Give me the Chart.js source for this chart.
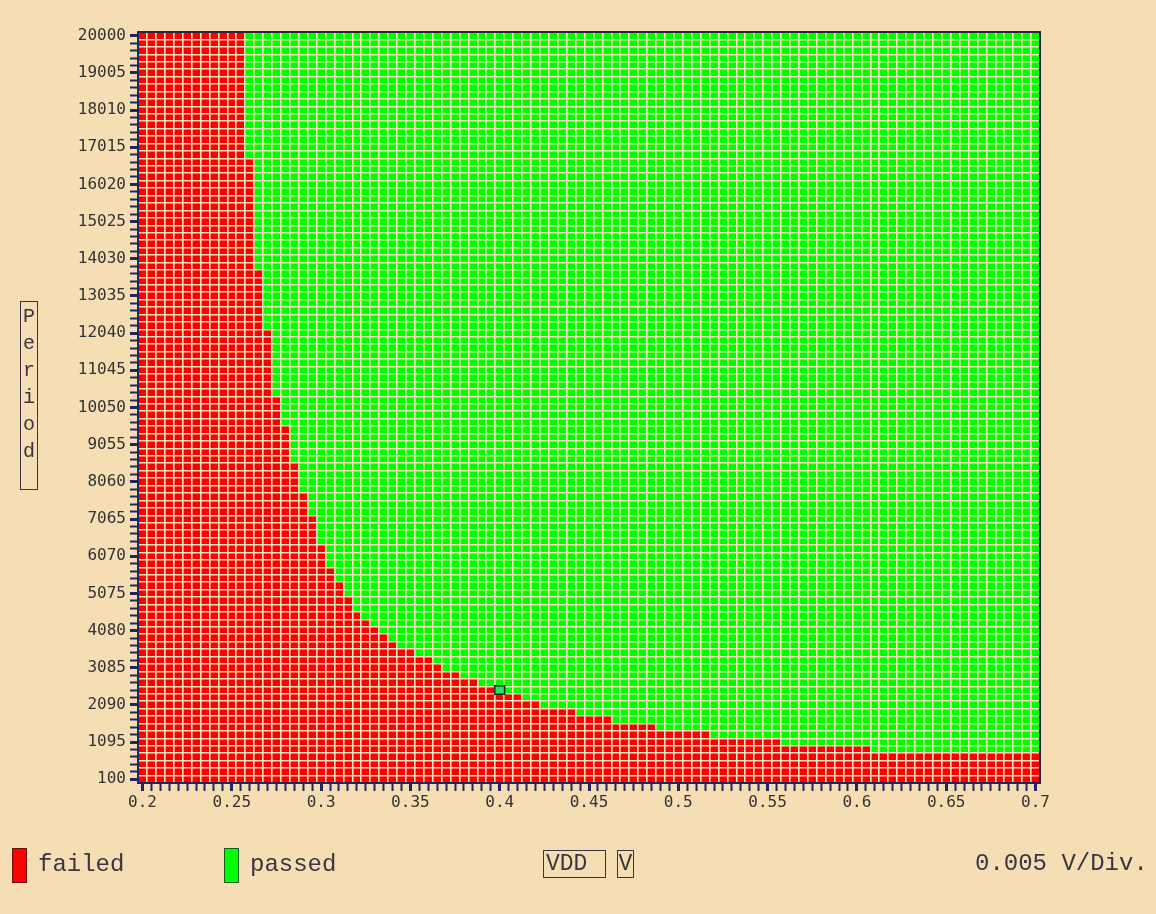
<!DOCTYPE html>
<html>
<head>
<meta charset="utf-8">
<title>Shmoo plot: Period vs VDD</title>
<script src="https://cdn.jsdelivr.net/npm/chart.js@4"></script>
<style>
  html, body { margin: 0; padding: 0; background: #F5DEB4; }
  #wrap { position: relative; width: 1156px; height: 914px; overflow: hidden; }
  #shmoo { position: absolute; left: 0; top: 0; }
  .txt { position: absolute; font-family: "Liberation Mono", "DejaVu Sans Mono", monospace; color: #3a3444; line-height: 1; white-space: pre; }
  #ytitle { position: absolute; left: 20px; top: 301px; width: 16px; height: 186px; border: 1px solid #3a3444;
            font-family: "Liberation Mono", monospace; font-size: 20px; line-height: 27px; color: #3a3444; text-align: center; padding-top: 1px; box-sizing: content-box; }
  .swatch { position: absolute; top: 848px; width: 13px; height: 33px; }
  .box { position: absolute; top: 850px; height: 26px; border: 1px solid #3a3444; font-family: "Liberation Mono", monospace; font-size: 23px; line-height: 26px; color: #3a3444; white-space: pre; }
</style>
</head>
<body>
<div id="wrap">
  <canvas id="shmoo" width="1156" height="914"></canvas>
  <div id="ytitle">P<br>e<br>r<br>i<br>o<br>d</div>
  <div class="swatch" style="left:12px; background:#ff0000; border:1px solid #6a1010;"></div>
  <div class="txt" style="left:38px; top:853px; font-size:24px;">failed</div>
  <div class="swatch" style="left:224px; background:#00ff00; border:1px solid #1d5a22;"></div>
  <div class="txt" style="left:250px; top:853px; font-size:24px;">passed</div>
  <div class="box" style="left:543px; width:59px; padding-left:2px;">VDD</div>
  <div class="box" style="left:617px; width:15px; text-align:center;">V</div>
  <div class="txt" style="left:975px; top:852px; font-size:24px;">0.005 V/Div.</div>
</div>
<script>
// Sweep definition: VDD columns (0.005 V/Div) and period rows
const vddStart = 0.2;
const vddStep = 0.005;
const vddCount = 101;
const periodStart = 100;
const periodStep = 199;
const periodCount = 101;

// Axis labels
const xTickLabels = ['0.2', '0.25', '0.3', '0.35', '0.4', '0.45', '0.5', '0.55', '0.6', '0.65', '0.7'];
const yTickLabels = ['100', '1095', '2090', '3085', '4080', '5075', '6070', '7065', '8060', '9055', '10050',
                     '11045', '12040', '13035', '14030', '15025', '16020', '17015', '18010', '19005', '20000'];

// Highest failing period for each VDD column (0.2 .. 0.7 V); above it every point passes
const lastFailedPeriod = [
  20000, 20000, 20000, 20000, 20000, 20000, 20000, 20000, 20000, 20000, 20000, 20000,
  16617, 13632, 12040, 10249, 9453, 8458, 7662, 7065, 6269, 5672, 5274, 4876, 4478, 4279, 4080, 3881, 3682,
  3483, 3483, 3284, 3284, 3085, 2886, 2886, 2687, 2687, 2488, 2488,
  2289, 2289, 2289, 2090, 2090,
  1891, 1891, 1891, 1891,
  1692, 1692, 1692, 1692,
  1493, 1493, 1493, 1493, 1493,
  1294, 1294, 1294, 1294, 1294, 1294,
  1095, 1095, 1095, 1095, 1095, 1095, 1095, 1095,
  896, 896, 896, 896, 896, 896, 896, 896, 896, 896,
  697, 697, 697, 697, 697, 697, 697, 697, 697, 697, 697, 697, 697, 697, 697, 697, 697, 697, 697
];

// Current operating point highlighted on the plot
const markerVdd = 0.4;
const markerPeriod = 2488;

// ---- derived tables for the chart ----
const vddValues = Array.from({ length: vddCount }, (_, i) => +(vddStart + i * vddStep).toFixed(4));
const periodValues = Array.from({ length: periodCount }, (_, i) => periodStart + i * periodStep);
const vddMin = vddStart - vddStep / 2;
const vddMax = vddValues[vddCount - 1] + vddStep / 2;
const periodMin = periodStart - periodStep / 2;
const periodMax = periodValues[periodCount - 1] + periodStep / 2;

const failedData = vddValues.map((v, i) => ({ x: v, y: [periodMin, lastFailedPeriod[i] + periodStep / 2] }));
const passedData = vddValues
  .map((v, i) => ({ x: v, y: [lastFailedPeriod[i] + periodStep / 2, periodMax] }))
  .filter(d => d.y[0] < periodMax);

// cell borders sit halfway between neighbouring sweep points
const vddEdges = vddValues.slice(1).map(v => v - vddStep / 2);
const periodEdges = periodValues.slice(1).map(p => p - periodStep / 2);

const AXIS = '#23235e';
const CELL_LINE = '#F6E2BC';
const TICK_FONT = { family: '"DejaVu Sans Mono", monospace', size: 16 };

// outlined cell for the operating point, drawn on top of the cell grid
const markerPlugin = {
  id: 'operatingPoint',
  afterDraw(chart) {
    const xs = chart.scales.x, ys = chart.scales.y, ctx = chart.ctx;
    const x0 = xs.getPixelForValue(markerVdd - vddStep / 2) - 0.5;
    const x1 = xs.getPixelForValue(markerVdd + vddStep / 2) + 0.5;
    const y0 = ys.getPixelForValue(markerPeriod + periodStep / 2) - 0.5;
    const y1 = ys.getPixelForValue(markerPeriod - periodStep / 2) + 0.5;
    ctx.save();
    ctx.fillStyle = '#2fe060';
    ctx.fillRect(x0, y0, x1 - x0, y1 - y0);
    ctx.lineWidth = 1.6;
    ctx.strokeStyle = '#1c3326';
    ctx.strokeRect(x0, y0, x1 - x0, y1 - y0);
    ctx.restore();
  }
};

const barCommon = {
  grouped: false,
  barPercentage: 1,
  categoryPercentage: 1,
  borderWidth: 0,
  borderSkipped: false,
  xAxisID: 'x',
  yAxisID: 'y'
};

new Chart(document.getElementById('shmoo'), {
  type: 'bar',
  data: {
    datasets: [
      Object.assign({ label: 'failed', data: failedData, backgroundColor: '#ff0000' }, barCommon),
      Object.assign({ label: 'passed', data: passedData, backgroundColor: '#00ff00' }, barCommon)
    ]
  },
  options: {
    responsive: false,
    animation: false,
    events: [],
    layout: { padding: { left: 0, top: 32, right: 116, bottom: 101 } },
    plugins: { legend: { display: false }, tooltip: { enabled: false } },
    scales: {
      x: {
        type: 'linear',
        position: 'bottom',
        min: vddMin,
        max: vddMax,
        offset: false,
        afterBuildTicks: s => { s.ticks = vddValues.map(v => ({ value: v })); },
        afterFit: s => { s.height = 30; },
        grid: {
          drawOnChartArea: false, offset: false, drawTicks: true, tickLength: 8, z: 2,
          tickColor: AXIS,
          tickWidth: c => (c.index % 10 === 0 ? 3 : 2)
        },
        border: { display: true, color: AXIS, width: 2, z: 2 },
        ticks: {
          autoSkip: false, maxRotation: 0, padding: 2, color: '#333333', font: TICK_FONT,
          callback: (v, i) => (i % 10 === 0 ? xTickLabels[i / 10] : '')
        }
      },
      y: {
        type: 'linear',
        position: 'left',
        min: periodMin,
        max: periodMax,
        afterBuildTicks: s => { s.ticks = periodValues.map(v => ({ value: v })); },
        afterFit: s => { s.width = 138; },
        grid: {
          drawOnChartArea: false, drawTicks: true, tickLength: 8, z: 2,
          tickColor: AXIS,
          tickWidth: c => (c.index % 5 === 0 ? 3 : 2)
        },
        border: { display: true, color: AXIS, width: 2, z: 2 },
        ticks: {
          autoSkip: false, padding: 4, color: '#333333', font: TICK_FONT,
          callback: (v, i) => (i % 5 === 0 ? yTickLabels[i / 5] : '')
        }
      },
      xGrid: {
        type: 'linear',
        position: 'top',
        min: vddMin,
        max: vddMax,
        offset: false,
        afterBuildTicks: s => { s.ticks = vddEdges.map(v => ({ value: v })); },
        afterFit: s => { s.height = 0; },
        grid: { drawOnChartArea: true, drawTicks: false, offset: false, color: CELL_LINE, lineWidth: 1.6, z: 1 },
        border: { display: true, color: '#2c2440', width: 2, z: 2 },
        ticks: { display: false, autoSkip: false }
      },
      yGrid: {
        type: 'linear',
        position: 'right',
        min: periodMin,
        max: periodMax,
        afterBuildTicks: s => { s.ticks = periodEdges.map(v => ({ value: v })); },
        afterFit: s => { s.width = 0; },
        grid: { drawOnChartArea: true, drawTicks: false, color: CELL_LINE, lineWidth: 1.6, z: 1 },
        border: { display: true, color: '#2c2440', width: 2, z: 2 },
        ticks: { display: false, autoSkip: false }
      }
    }
  },
  plugins: [markerPlugin]
});
</script>
</body>
</html>
